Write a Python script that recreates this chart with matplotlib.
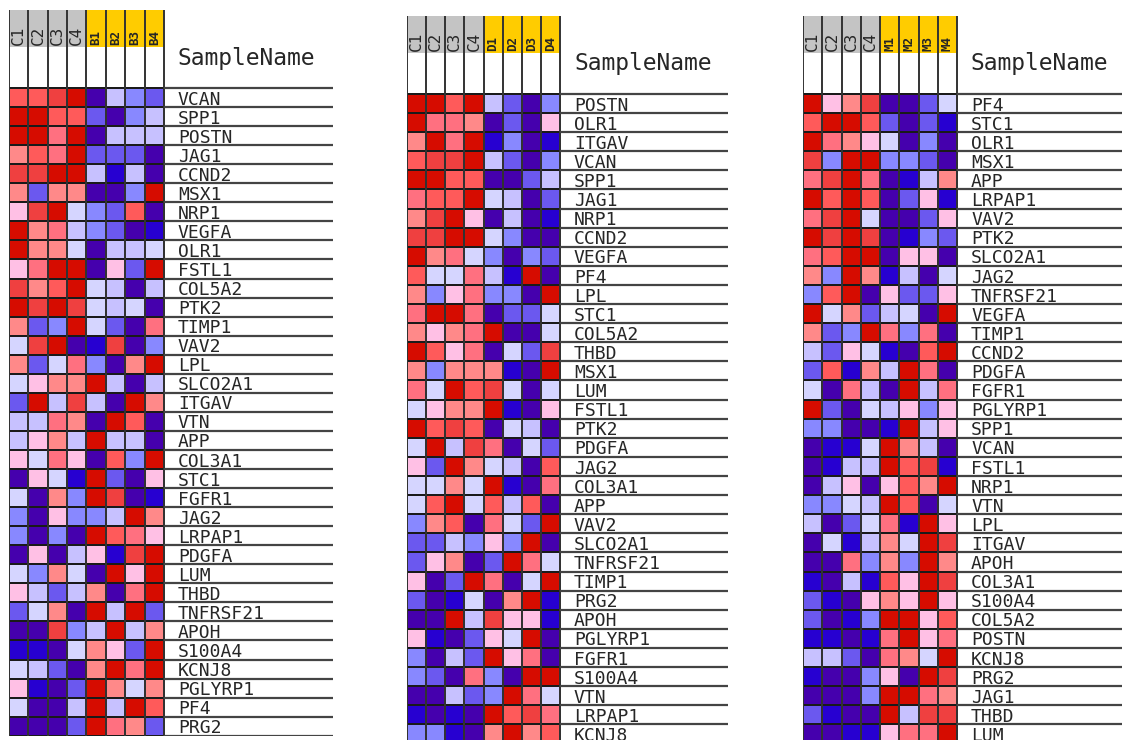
import numpy as np
import matplotlib
matplotlib.use("Agg")
import matplotlib.pyplot as plt
from matplotlib.colors import ListedColormap, BoundaryNorm
from matplotlib.patches import Rectangle

# GenePattern style palette, level 0 (low, blue) .. 11 (high, red)
paleta = ["#4500AD", "#2700D1", "#6B58EF", "#8888FF", "#C7C1FF", "#D5D5FF",
          "#FFC0E5", "#FF8989", "#FF7080", "#FF5A5A", "#EF4040", "#D60C00"]
cmap = ListedColormap(paleta)
norm = BoundaryNorm(np.arange(-0.5, 12.5, 1), cmap.N)

# Panel 1: control vs B
muestras_b = ["C1", "C2", "C3", "C4", "B1", "B2", "B3", "B4"]
genes_b = ["VCAN", "SPP1", "POSTN", "JAG1", "CCND2", "MSX1", "NRP1", "VEGFA",
           "OLR1", "FSTL1", "COL5A2", "PTK2", "TIMP1", "VAV2", "LPL", "SLCO2A1",
           "ITGAV", "VTN", "APP", "COL3A1", "STC1", "FGFR1", "JAG2", "LRPAP1",
           "PDGFA", "LUM", "THBD", "TNFRSF21", "APOH", "S100A4", "KCNJ8",
           "PGLYRP1", "PF4", "PRG2"]
niveles_b = [
    [9, 9, 10, 11, 0, 4, 3, 2],
    [11, 11, 9, 9, 2, 0, 3, 4],
    [11, 11, 8, 11, 0, 4, 4, 4],
    [7, 9, 8, 11, 2, 2, 2, 0],
    [10, 10, 11, 11, 4, 1, 4, 0],
    [7, 2, 7, 7, 0, 0, 3, 11],
    [6, 10, 11, 5, 3, 2, 9, 0],
    [11, 7, 8, 4, 3, 2, 0, 1],
    [11, 7, 7, 5, 0, 4, 4, 5],
    [6, 8, 11, 11, 0, 6, 2, 11],
    [10, 7, 9, 11, 5, 4, 0, 4],
    [11, 10, 11, 10, 5, 4, 5, 0],
    [7, 2, 3, 11, 5, 2, 0, 8],
    [5, 10, 11, 0, 1, 10, 0, 3],
    [7, 2, 5, 8, 3, 0, 7, 11],
    [5, 6, 7, 7, 11, 4, 0, 4],
    [2, 11, 4, 10, 4, 0, 11, 7],
    [4, 4, 8, 7, 0, 11, 9, 0],
    [4, 6, 7, 4, 11, 4, 4, 0],
    [6, 5, 8, 6, 0, 9, 3, 11],
    [0, 6, 5, 1, 11, 2, 0, 6],
    [5, 0, 7, 3, 11, 10, 0, 1],
    [3, 0, 6, 3, 3, 4, 11, 7],
    [3, 0, 3, 0, 11, 9, 8, 6],
    [0, 6, 0, 4, 6, 1, 10, 11],
    [5, 3, 7, 5, 0, 11, 6, 11],
    [6, 4, 2, 4, 7, 0, 8, 11],
    [2, 5, 7, 0, 11, 4, 11, 2],
    [0, 0, 10, 3, 4, 11, 4, 7],
    [1, 1, 0, 5, 7, 6, 2, 11],
    [5, 4, 2, 0, 7, 11, 8, 11],
    [6, 1, 0, 2, 11, 7, 5, 7],
    [5, 0, 0, 4, 11, 4, 11, 9],
    [0, 0, 0, 2, 11, 8, 7, 2],
]

# Panel 2: control vs D
muestras_d = ["C1", "C2", "C3", "C4", "D1", "D2", "D3", "D4"]
genes_d = ["POSTN", "OLR1", "ITGAV", "VCAN", "SPP1", "JAG1", "NRP1", "CCND2",
           "VEGFA", "PF4", "LPL", "STC1", "COL5A2", "THBD", "MSX1", "LUM",
           "FSTL1", "PTK2", "PDGFA", "JAG2", "COL3A1", "APP", "VAV2", "SLCO2A1",
           "TNFRSF21", "TIMP1", "PRG2", "APOH", "PGLYRP1", "FGFR1", "S100A4",
           "VTN", "LRPAP1", "KCNJ8"]
niveles_d = [
    [11, 11, 9, 11, 4, 2, 0, 3],
    [11, 8, 8, 7, 0, 2, 0, 6],
    [7, 11, 8, 11, 1, 3, 0, 1],
    [9, 10, 10, 11, 4, 2, 0, 3],
    [11, 11, 9, 9, 0, 0, 2, 4],
    [8, 9, 9, 11, 5, 4, 0, 2],
    [7, 10, 11, 6, 0, 4, 0, 1],
    [10, 10, 11, 11, 5, 3, 0, 0],
    [11, 7, 8, 5, 3, 0, 3, 2],
    [9, 5, 5, 8, 4, 1, 11, 0],
    [7, 3, 6, 8, 3, 3, 0, 11],
    [8, 11, 11, 8, 0, 2, 2, 5],
    [7, 6, 7, 8, 11, 0, 0, 5],
    [11, 9, 6, 8, 0, 5, 2, 10],
    [7, 3, 7, 7, 7, 1, 0, 11],
    [8, 5, 11, 9, 10, 5, 0, 5],
    [5, 6, 7, 7, 11, 1, 0, 6],
    [11, 9, 10, 9, 0, 5, 4, 0],
    [5, 11, 4, 10, 8, 0, 5, 2],
    [6, 2, 11, 7, 5, 4, 0, 9],
    [5, 5, 7, 5, 11, 1, 0, 8],
    [5, 9, 11, 5, 9, 4, 9, 0],
    [3, 7, 9, 0, 8, 5, 2, 11],
    [2, 2, 4, 3, 6, 3, 11, 0],
    [2, 6, 7, 0, 2, 11, 8, 5],
    [6, 0, 2, 11, 8, 0, 5, 11],
    [2, 0, 1, 5, 0, 7, 11, 1],
    [0, 0, 11, 4, 10, 6, 6, 1],
    [6, 1, 0, 2, 6, 5, 11, 0],
    [3, 0, 4, 2, 11, 6, 8, 0],
    [3, 2, 0, 8, 3, 0, 11, 11],
    [0, 0, 4, 2, 3, 11, 8, 5],
    [1, 0, 1, 0, 11, 9, 10, 8],
    [3, 3, 1, 0, 7, 11, 7, 9],
]

# Panel 3: control vs M
muestras_m = ["C1", "C2", "C3", "C4", "M1", "M2", "M3", "M4"]
genes_m = ["PF4", "STC1", "OLR1", "MSX1", "APP", "LRPAP1", "VAV2", "PTK2",
           "SLCO2A1", "JAG2", "TNFRSF21", "VEGFA", "TIMP1", "CCND2", "PDGFA",
           "FGFR1", "PGLYRP1", "SPP1", "VCAN", "FSTL1", "NRP1", "VTN", "LPL",
           "ITGAV", "APOH", "COL3A1", "S100A4", "COL5A2", "POSTN", "KCNJ8",
           "PRG2", "JAG1", "THBD", "LUM"]
niveles_m = [
    [11, 6, 7, 10, 0, 0, 2, 5],
    [9, 11, 11, 9, 2, 0, 2, 1],
    [11, 8, 7, 6, 5, 0, 3, 0],
    [10, 3, 11, 11, 3, 3, 2, 0],
    [8, 10, 11, 8, 0, 1, 4, 7],
    [11, 9, 11, 9, 0, 2, 6, 1],
    [8, 10, 11, 5, 0, 0, 2, 6],
    [11, 10, 11, 10, 0, 1, 3, 2],
    [8, 9, 11, 11, 0, 6, 6, 0],
    [7, 3, 11, 7, 1, 4, 0, 5],
    [3, 9, 11, 0, 6, 2, 2, 6],
    [11, 5, 7, 2, 4, 5, 0, 11],
    [7, 2, 3, 11, 8, 3, 8, 0],
    [4, 2, 6, 5, 1, 0, 9, 11],
    [2, 9, 1, 7, 4, 11, 8, 0],
    [5, 0, 8, 4, 0, 11, 4, 8],
    [11, 2, 0, 5, 4, 6, 3, 6],
    [3, 3, 0, 0, 1, 11, 4, 6],
    [0, 1, 1, 5, 11, 7, 4, 0],
    [0, 1, 4, 4, 11, 9, 10, 1],
    [0, 4, 6, 0, 6, 9, 7, 11],
    [3, 3, 5, 4, 11, 9, 0, 5],
    [4, 0, 2, 5, 8, 1, 11, 6],
    [0, 5, 1, 4, 7, 5, 11, 10],
    [0, 0, 8, 3, 7, 3, 11, 7],
    [1, 0, 4, 1, 9, 6, 11, 10],
    [2, 1, 0, 6, 7, 6, 11, 6],
    [2, 0, 1, 3, 11, 11, 6, 9],
    [1, 1, 0, 1, 8, 11, 6, 8],
    [4, 4, 2, 0, 8, 7, 5, 11],
    [1, 0, 0, 3, 6, 0, 11, 10],
    [0, 0, 0, 3, 11, 11, 8, 7],
    [2, 1, 0, 0, 11, 4, 10, 10],
    [0, 0, 1, 1, 6, 8, 8, 11],
]

W, H = 1122, 740
fig = plt.figure(figsize=(W / 100, H / 100), dpi=100)
fig.patch.set_facecolor("white")

GRIS = "#c4c4c4"
AMARILLO = "#ffcc00"
TINTA = "#262626"


def dibujar_panel(izq, arriba, ancho_col, alto_fila, derecha, muestras, genes, niveles):
    n = len(genes)
    cab = 78.0  # alto de la cabecera en px
    ancho = derecha - izq
    alto = cab + n * alto_fila
    ax = fig.add_axes([izq / W, 1 - (arriba + alto) / H, ancho / W, alto / H])
    ax.set_xlim(0, ancho / ancho_col)
    hr = cab / alto_fila
    ax.set_ylim(n, -hr)
    ax.axis("off")

    datos = np.array(niveles)
    ax.pcolormesh(np.arange(9), np.arange(n + 1), datos, cmap=cmap, norm=norm,
                  edgecolors="#1a1a1a", linewidth=1.4)

    # cabecera con bandas de grupo
    banda = 37.0 / alto_fila
    for i, s in enumerate(muestras):
        control = s.startswith("C")
        ax.add_patch(Rectangle((i, -hr), 1, banda, facecolor=GRIS if control else AMARILLO,
                               edgecolor="none"))
        ax.text(i + 0.5, -hr + banda - 0.08, s, rotation=90, ha="center", va="bottom",
                fontsize=11.5 if control else 9, fontweight="normal" if control else "bold",
                color=TINTA, family="DejaVu Sans Mono")
    ax.vlines(np.arange(9), -hr, n, color="#333333", lw=1.4)

    # líneas y nombres de genes
    xt = 8 + 14.0 / ancho_col
    ax.hlines(np.arange(n + 1), 8, ancho / ancho_col, color="#444444", lw=1.6)
    for j, g in enumerate(genes):
        ax.text(xt, j + 1.08, g, ha="left", va="bottom", fontsize=13,
                family="DejaVu Sans Mono", color=TINTA, clip_on=False)
    ax.text(xt, -hr + 48.0 / alto_fila, "SampleName", ha="left", va="center",
            fontsize=16.5, family="DejaVu Sans Mono", color=TINTA)


dibujar_panel(9, 10, 19.375, 19.05, 333, muestras_b, genes_b, niveles_b)
dibujar_panel(407, 16, 19.125, 19.1, 728, muestras_d, genes_d, niveles_d)
dibujar_panel(803, 16, 19.25, 19.1, 1122, muestras_m, genes_m, niveles_m)

plt.savefig("out.png", dpi=100)
